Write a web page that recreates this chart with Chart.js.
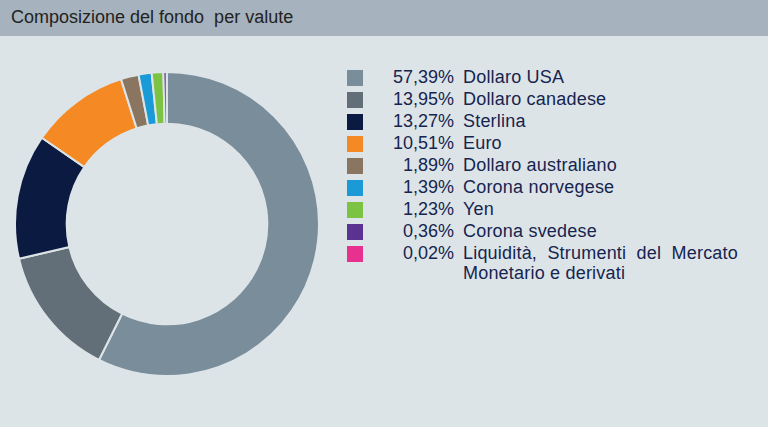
<!DOCTYPE html>
<html>
<head>
<meta charset="utf-8">
<script src="https://cdn.jsdelivr.net/npm/chart.js@4"></script>
<style>
  body { margin: 0; width: 768px; height: 427px; background: #dde4e8; font-family: "Liberation Sans", Arial, sans-serif; overflow: hidden; }
  #header { position: absolute; left: 0; top: 0; width: 768px; height: 36px; background: #a6b2bd; }
  #header span { position: absolute; left: 11px; top: 7px; font-size: 18px; color: #222; }
  #chartBox { position: absolute; left: 14px; top: 71px; width: 306px; height: 306px; }
  #legend { position: absolute; left: 347px; top: 67px; width: 400px; color: #16244f; font-size: 18px; }
  .row { position: relative; height: 22px; }
  .sw { position: absolute; left: 0; top: 3px; width: 16px; height: 16px; }
  .pct { position: absolute; left: 20px; width: 87px; text-align: right; top: 0; line-height: 20px; }
  .lab { position: absolute; left: 116px; width: 275px; top: 0; line-height: 20px; text-align: justify; letter-spacing: 0.2px; }
</style>
</head>
<body>
<div id="header"><span>Composizione del fondo&nbsp; per valute</span></div>
<div id="chartBox"><canvas id="donut"></canvas></div>
<div id="legend"></div>
<script>
const labels = ['Dollaro USA', 'Dollaro canadese', 'Sterlina', 'Euro', 'Dollaro australiano', 'Corona norvegese', 'Yen', 'Corona svedese', 'Liquidità, Strumenti del Mercato Monetario e derivati'];
const values = [57.39, 13.95, 13.27, 10.51, 1.89, 1.39, 1.23, 0.36, 0.02];
const colors = ['#7a8d9b', '#636f78', '#0b1a40', '#f58a25', '#8a7560', '#1a9ad6', '#7cc243', '#5b3291', '#e8318f'];

// legend built from the same arrays
const legend = document.getElementById('legend');
labels.forEach((l, i) => {
    const row = document.createElement('div');
    row.className = 'row';
    const pct = values[i].toFixed(2).replace('.', ',') + '%';
    row.innerHTML = '<div class="sw" style="background:' + colors[i] + '"></div>' +
        '<div class="pct">' + pct + '</div><div class="lab">' + l + '</div>';
    legend.appendChild(row);
});

const ctx = document.getElementById('donut').getContext('2d');
new Chart(ctx, {
    type: 'doughnut',
    data: {
        labels: labels,
        datasets: [{
            data: values,
            backgroundColor: colors,
            borderColor: '#dde4e8',
            borderWidth: 2
        }]
    },
    options: {
        responsive: true,
        maintainAspectRatio: false,
        animation: false,
        cutout: '66%',
        layout: { padding: 0 },
        plugins: {
            legend: { display: false },
            tooltip: { enabled: false }
        }
    }
});
</script>
</body>
</html>
